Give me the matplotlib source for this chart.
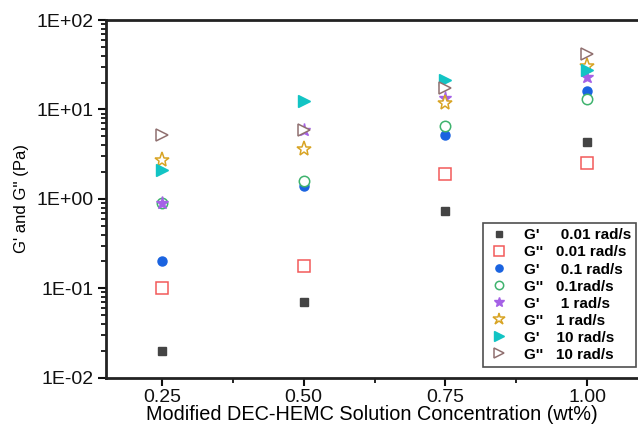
# G' / G'' vs concentration plot

import numpy as np
import matplotlib
matplotlib.use("Agg")
import matplotlib.pyplot as plt
from matplotlib.ticker import LogLocator, NullFormatter, FixedLocator

plt.rcParams['font.family'] = ['Liberation Sans', 'DejaVu Sans']

# データ
conc = [0.25, 0.50, 0.75, 1.00]
labels = ["G'     0.01 rad/s", "G''   0.01 rad/s", "G'     0.1 rad/s", "G''   0.1rad/s",
          "G'     1 rad/s", "G''   1 rad/s", "G'    10 rad/s", "G''   10 rad/s"]
g1_001 = [0.020, 0.070, 0.74, 4.3]
g2_001 = [0.10, 0.18, 1.9, 2.5]
g1_01 = [0.20, 1.41, 5.2, 16.2]
g2_01 = [0.91, 1.60, 6.6, 13.1]
g1_1 = [0.90, 5.9, 13.3, 23.0]
g2_1 = [2.75, 3.6, 11.7, 31.0]
g1_10 = [2.12, 12.3, 21.4, 27.6]
g2_10 = [5.2, 5.9, 17.3, 42.0]
series = [g1_001, g2_001, g1_01, g2_01, g1_1, g2_1, g1_10, g2_10]

# 描画スタイル (marker, color, filled, size)
styles = [
    ("s", "#444444", True, 6),
    ("s", "#f25a5a", False, 8.5),
    ("o", "#1a63e0", True, 6.5),
    ("o", "#3fb36e", False, 7.5),
    ("*", "#a561e6", True, 9.5),
    ("*", "#d8a424", False, 11),
    (">", "#12c4c4", True, 8.5),
    (">", "#907070", False, 8.5),
]

fig = plt.figure(figsize=(6.38, 4.26), dpi=100)
ax = fig.add_axes([0.166, 0.113, 0.834, 0.840])

for vals, lab, (m, c, filled, ms) in zip(series, labels, styles):
    if filled:
        ax.plot(conc, vals, linestyle="none", marker=m, markersize=ms, color=c,
                markeredgecolor=c, label=lab)
    else:
        # 白抜きマーカー (下のマーカーを隠す)
        ax.plot(conc, vals, linestyle="none", marker=m, markersize=ms,
                markerfacecolor="white", markeredgecolor=c, markeredgewidth=1.1, label=lab)

ax.set_yscale("log")
ax.set_ylim(1e-2, 1e2)
ax.set_xlim(0.151, 1.09)

ax.set_xticks(conc)
ax.set_xticklabels(["0.25", "0.50", "0.75", "1.00"])
ax.xaxis.set_minor_locator(FixedLocator([0.375, 0.625, 0.875]))
ax.set_yticks([1e-2, 1e-1, 1e0, 1e1, 1e2])
ax.set_yticklabels(["1E-02", "1E-01", "1E+00", "1E+01", "1E+02"])
ax.yaxis.set_minor_locator(LogLocator(base=10, subs=np.arange(2, 10), numticks=20))
ax.yaxis.set_minor_formatter(NullFormatter())

ax.tick_params(axis="both", which="major", direction="out", length=6, width=1.5,
               labelsize=14, colors="#111111", pad=3)
ax.tick_params(axis="x", which="major", pad=2)
ax.tick_params(axis="both", which="minor", direction="out", length=3.5, width=1.2)

for s in ["left", "bottom", "top"]:
    ax.spines[s].set_linewidth(2)
    ax.spines[s].set_color("#222222")
ax.spines["right"].set_visible(False)

ax.set_xlabel("Modified DEC-HEMC Solution Concentration (wt%)", fontsize=14.3, labelpad=-1)
ax.set_ylabel("G' and G'' (Pa)", fontsize=12, labelpad=5)

leg = ax.legend(loc="lower right", bbox_to_anchor=(0.997, 0.03),
                prop={"weight": "bold", "size": 11}, frameon=True, fancybox=False,
                edgecolor="#222222", borderpad=0.35, labelspacing=0.2,
                handletextpad=0.9, handlelength=1.4, borderaxespad=0, markerscale=0.8)
leg.get_frame().set_linewidth(1.2)

plt.savefig("out.png", dpi=100)
